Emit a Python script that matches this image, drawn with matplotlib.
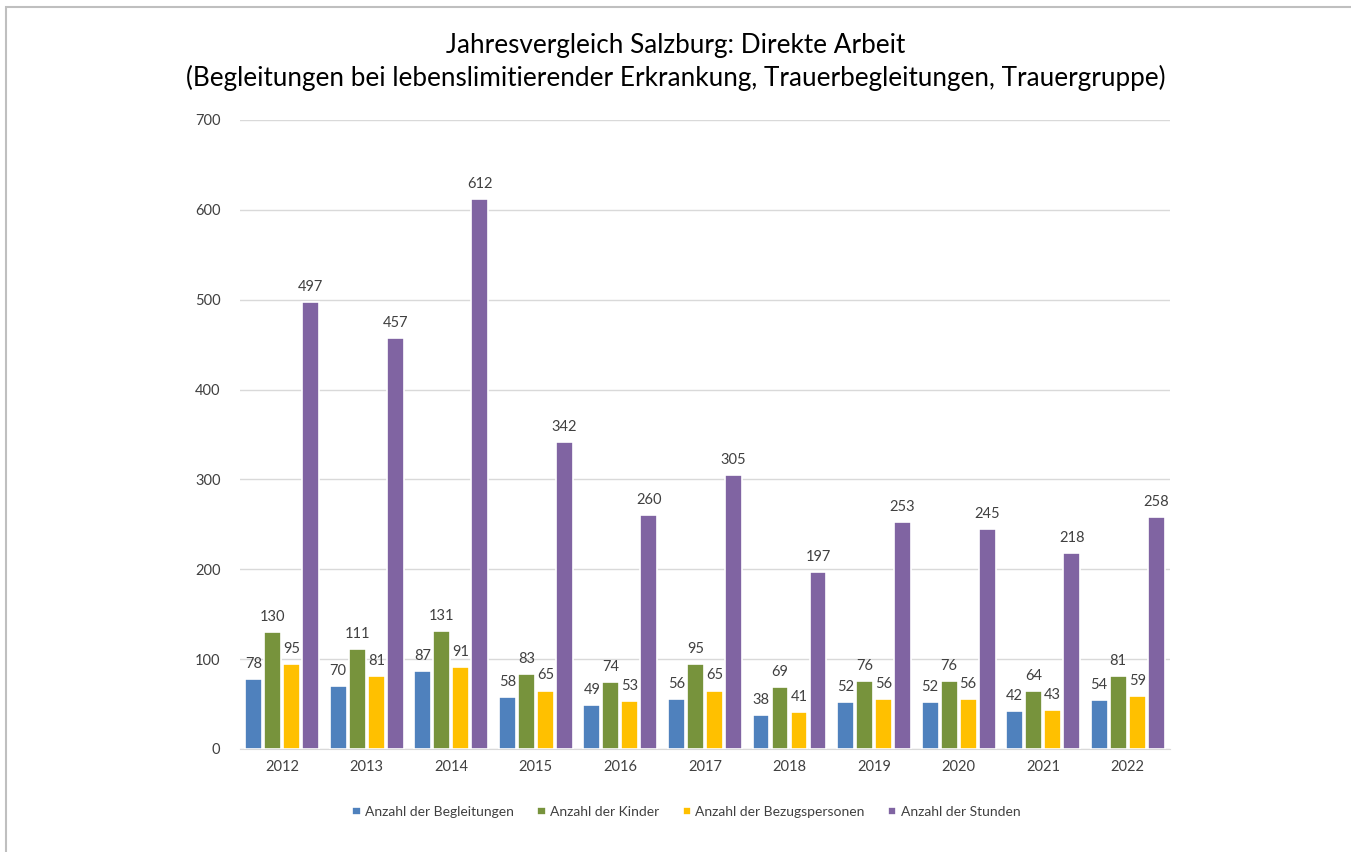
import matplotlib.pyplot as plt
import numpy as np

plt.rcParams['font.family'] = ['Lato', 'DejaVu Sans']

years = ["2012", "2013", "2014", "2015", "2016", "2017", "2018", "2019", "2020", "2021", "2022"]
begleitungen = [78, 70, 87, 58, 49, 56, 38, 52, 52, 42, 54]
kinder = [130, 111, 131, 83, 74, 95, 69, 76, 76, 64, 81]
bezugspersonen = [95, 81, 91, 65, 53, 65, 41, 56, 56, 43, 59]
stunden = [497, 457, 612, 342, 260, 305, 197, 253, 245, 218, 258]

series = [
    ("Anzahl der Begleitungen", begleitungen, "#4f81bd"),
    ("Anzahl der Kinder", kinder, "#77933c"),
    ("Anzahl der Bezugspersonen", bezugspersonen, "#ffc000"),
    ("Anzahl der Stunden", stunden, "#8064a2"),
]

fig = plt.figure(figsize=(13.51, 8.52), dpi=100)
ax = fig.add_axes([0.1776, 0.1209, 0.6884, 0.7383])

x = np.arange(len(years))
step = 0.225
width = 0.2
for i, (name, vals, col) in enumerate(series):
    pos = x + (i - 1.5) * step
    bars = ax.bar(pos, vals, width, color=col, edgecolor="white", linewidth=1.2, label=name, zorder=3)
    for b, v in zip(bars, vals):
        ax.text(b.get_x() + b.get_width() / 2, v + 9, str(v), ha="center", va="bottom",
                fontsize=10.5, color="#404040")

ax.set_xlim(-0.5, len(years) - 0.5)
ax.set_ylim(0, 700)
ax.set_yticks(range(0, 701, 100))
ax.set_xticks(x)
ax.set_xticklabels(years)
ax.tick_params(axis="both", length=0, labelsize=10.5, labelcolor="#404040")
ax.tick_params(axis="y", pad=14)
ax.tick_params(axis="x", pad=8)
ax.grid(axis="y", color="#d9d9d9", linewidth=1, zorder=0)
for s in ["top", "right", "left"]:
    ax.spines[s].set_visible(False)
ax.spines["bottom"].set_color("#d9d9d9")

fig.text(0.5, 0.947, "Jahresvergleich Salzburg: Direkte Arbeit", ha="center", va="center", fontsize=18.8)
fig.text(0.5, 0.909, "(Begleitungen bei lebenslimitierender Erkrankung, Trauerbegleitungen, Trauergruppe)",
         ha="center", va="center", fontsize=18.8)

fig.legend(loc="center", bbox_to_anchor=(0.508, 0.047), ncol=4, frameon=False, fontsize=10,
           handlelength=0.6, handleheight=0.6, handletextpad=0.3, columnspacing=1.7,
           labelcolor="#404040")

# outer frame
fig.add_artist(plt.Rectangle((0.0048, -0.05), 1.1, 1.0418, transform=fig.transFigure,
                             fill=False, edgecolor="#bfbfbf", linewidth=1.5))

fig.savefig("out.png", dpi=100)
